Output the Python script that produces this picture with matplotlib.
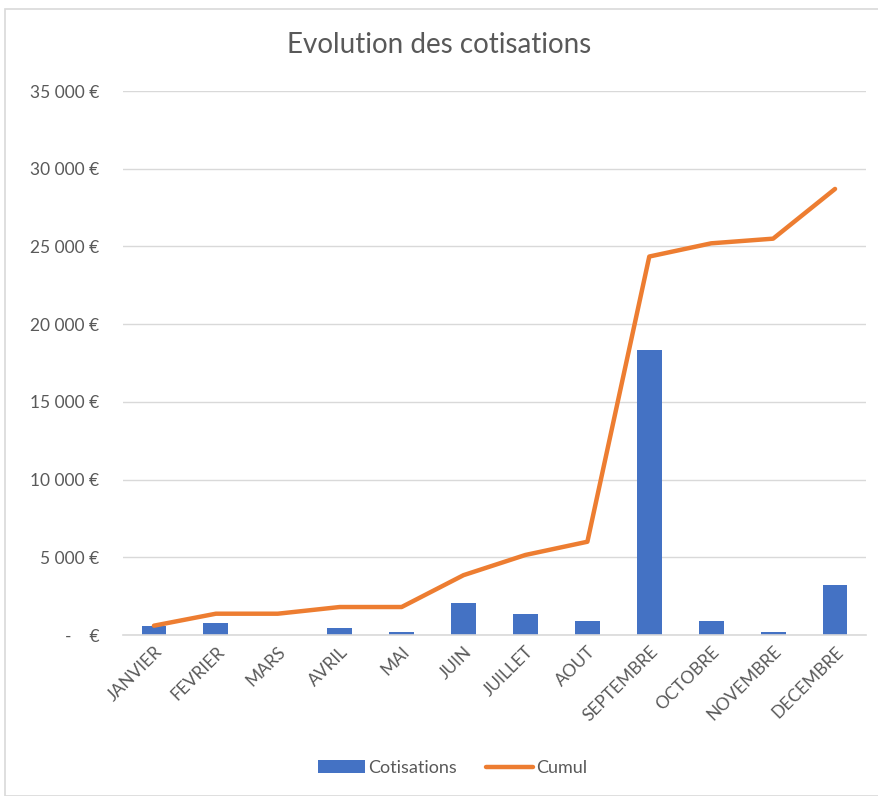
import matplotlib
matplotlib.use("Agg")
import matplotlib.pyplot as plt
from matplotlib.patches import Rectangle
from matplotlib.ticker import FuncFormatter

months = ["JANVIER", "FEVRIER", "MARS", "AVRIL", "MAI", "JUIN", "JUILLET",
          "AOUT", "SEPTEMBRE", "OCTOBRE", "NOVEMBRE", "DECEMBRE"]
cotisations = [600, 760, 0, 470, 170, 2080, 1330, 900, 18350, 900, 180, 3220]
cumul = [600, 1370, 1370, 1800, 1800, 3850, 5150, 6000, 24350, 25200, 25500, 28700]
yticks = [0, 5000, 10000, 15000, 20000, 25000, 30000, 35000]

plt.rcParams['font.family'] = ['Lato', 'DejaVu Sans']
text_color = "#595959"

W, H = 879, 796
fig = plt.figure(figsize=(W / 100, H / 100), dpi=100)

# chart border
fig.patches.append(Rectangle((5 / W, 0), 1 - 5 / W, 1 - 9 / H, transform=fig.transFigure,
                             fill=False, edgecolor="#d9d9d9", linewidth=1.2))

left, right, top, bottom = 123, 866, 91, 635
ax = fig.add_axes([left / W, 1 - bottom / H, (right - left) / W, (bottom - top) / H])

x = list(range(len(months)))
ax.bar(x, cotisations, width=0.4, color="#4472C4", label="Cotisations", zorder=2)
ax.plot(x, cumul, color="#ED7D31", linewidth=3.2, label="Cumul", zorder=3,
        solid_capstyle="round", solid_joinstyle="round")

ax.set_xlim(-0.5, len(months) - 0.5)
ax.set_ylim(0, 35000)
ax.set_yticks(yticks)

def fmt(v, pos):
    if v == 0:
        return "-    €"
    return f"{int(v):,} €".replace(",", " ")

ax.yaxis.set_major_formatter(FuncFormatter(fmt))
ax.grid(axis="y", color="#d9d9d9", linewidth=1, zorder=0)
for s in ["top", "right", "left"]:
    ax.spines[s].set_visible(False)
ax.spines["bottom"].set_color("#d9d9d9")
ax.spines["bottom"].set_linewidth(1.2)
ax.tick_params(axis="y", length=0, pad=17, labelsize=12.5, labelcolor=text_color)
ax.tick_params(axis="x", length=0, pad=6, labelsize=12.5, labelcolor=text_color)
ax.set_xticks(x)
ax.set_xticklabels(months, rotation=45, ha="right", rotation_mode="anchor")

fig.text(0.5, 1 - 45 / H, "Evolution des cotisations", ha="center", va="center",
         fontsize=20, color=text_color)

handles, labels = ax.get_legend_handles_labels()
order = [labels.index("Cotisations"), labels.index("Cumul")]
leg = fig.legend([handles[i] for i in order], [labels[i] for i in order],
                 loc="center", bbox_to_anchor=(0.515, 1 - 768 / H), ncol=2, frameon=False,
                 fontsize=13, handlelength=2.6, handletextpad=0.2, columnspacing=1.6)
for t in leg.get_texts():
    t.set_color(text_color)

fig.savefig("out.png", dpi=100)
